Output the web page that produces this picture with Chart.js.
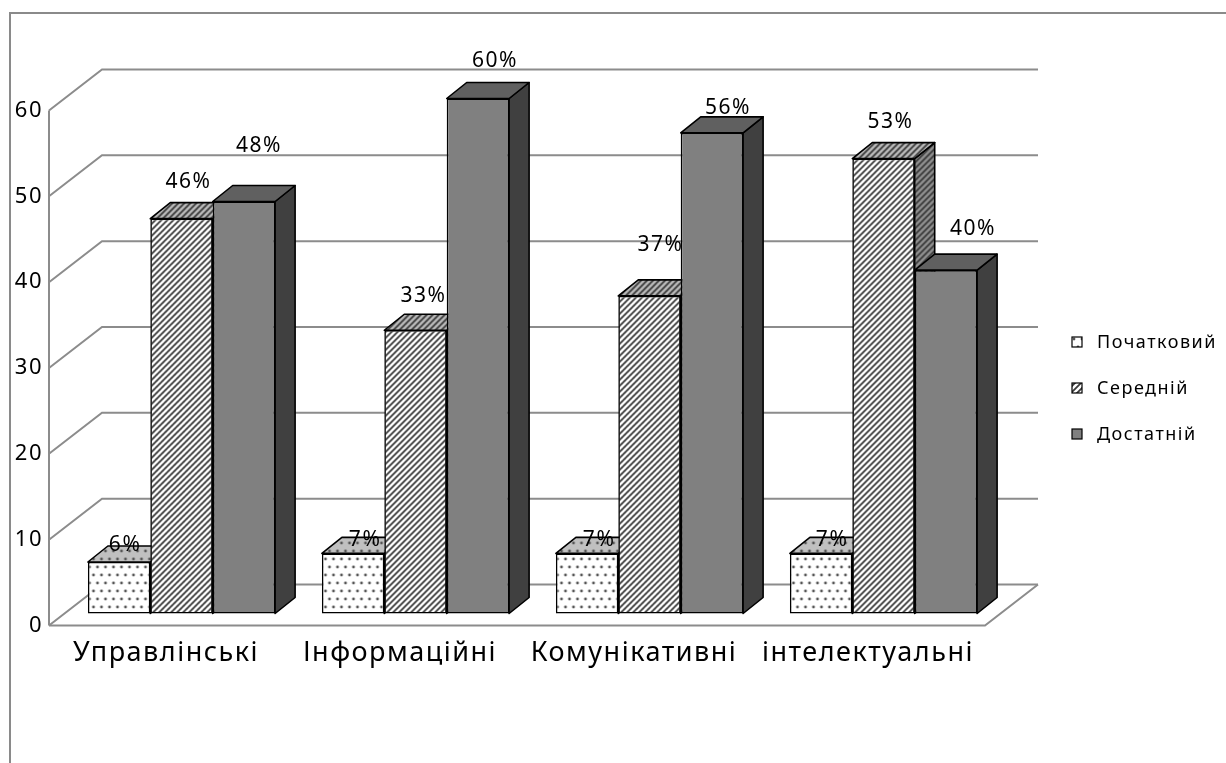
<!DOCTYPE html>
<html>
<head>
<meta charset="utf-8">
<script src="https://cdn.jsdelivr.net/npm/chart.js@4.4.1/dist/chart.umd.min.js"></script>
<style>
  html, body { margin: 0; padding: 0; background: #ffffff; }
  #wrap { width: 1226px; height: 763px; position: relative; }
</style>
</head>
<body>
<div id="wrap"><canvas id="c" width="1226" height="763"></canvas></div>
<script>
// ---- data ----
const categories = ['Управлінські', 'Інформаційні', 'Комунікативні', 'інтелектуальні'];
const seriesNames = ['Початковий', 'Середній', 'Достатній'];
const initialLevel = [6, 7, 7, 7];
const middleLevel = [46, 33, 37, 53];
const sufficientLevel = [48, 60, 56, 40];
const yTicks = [0, 10, 20, 30, 40, 50, 60];

// ---- 3D geometry (pixels) ----
const WALL_DX = 53, WALL_DY = -41;           // depth of side wall / floor
const BAR_SHIFT_X = 15.5, BAR_SHIFT_Y = -12; // bars sit part-way into the box
const BAR_DX = 20, BAR_DY = -16;             // depth of each bar

// value-label nudges relative to the front top centre of each bar
const labelNudge = [
  [[6, -17], [12, -13], [12, -13], [11, -13]],
  [[7, -37], [8, -34], [11, -51], [7, -37]],
  [[15, -55], [17, -37], [16, -25], [27, -41]]
];

const FONT = '"Noto Sans", "DejaVu Sans", sans-serif';
const SPACING = '1.5px';

// ---- fill patterns ----
const baseCtx = document.getElementById('c').getContext('2d');
function tile(w, h, paint) {
  const c = document.createElement('canvas');
  c.width = w; c.height = h;
  paint(c.getContext('2d'));
  return baseCtx.createPattern(c, 'repeat');
}
function dots(bg) {
  return tile(8, 16, g => {
    if (bg) { g.fillStyle = bg; g.fillRect(0, 0, 8, 16); }
    g.fillStyle = '#555555';
    [[2, 3], [6, 11]].forEach(([x, y]) => { g.beginPath(); g.arc(x, y, 1.4, 0, Math.PI * 2); g.fill(); });
  });
}
function hatch(bg, fg) {
  return tile(6, 6, g => {
    if (bg) { g.fillStyle = bg; g.fillRect(0, 0, 6, 6); }
    g.strokeStyle = fg; g.lineWidth = 1.8;
    g.beginPath();
    g.moveTo(-1, 7); g.lineTo(7, -1);
    g.moveTo(-1, 1); g.lineTo(1, -1);
    g.moveTo(5, 7); g.lineTo(7, 5);
    g.stroke();
  });
}

const faceStyles = [
  { front: dots('#ffffff'), top: '#c0c0c0', side: '#a6a6a6', overlay: dots(null) },
  { front: hatch('#ffffff', '#3c3c3c'), top: '#b8b8b8', side: '#8e8e8e', overlay: hatch(null, '#3c3c3c') },
  { front: '#808080', top: '#606060', side: '#404040', overlay: null }
];

function face(ctx, pts, fill, overlay) {
  ctx.beginPath();
  ctx.moveTo(pts[0][0], pts[0][1]);
  for (let i = 1; i < pts.length; i++) ctx.lineTo(pts[i][0], pts[i][1]);
  ctx.closePath();
  ctx.fillStyle = fill; ctx.fill();
  if (overlay) { ctx.fillStyle = overlay; ctx.fill(); }
  ctx.lineWidth = 1.6; ctx.strokeStyle = '#000000'; ctx.lineJoin = 'round';
  ctx.stroke();
}

const depthPlugin = {
  id: 'depth3d',
  beforeUpdate(chart) { chart.ctx.letterSpacing = SPACING; },
  beforeLayout(chart) { chart.ctx.letterSpacing = SPACING; },
  beforeDraw(chart) {
    const ctx = chart.ctx, a = chart.chartArea, ys = chart.scales.y;
    ctx.letterSpacing = SPACING;
    ctx.save();
    // outer border of the chart
    ctx.strokeStyle = '#8a8a8a'; ctx.lineWidth = 2;
    ctx.beginPath(); ctx.moveTo(10, 763); ctx.lineTo(10, 13); ctx.lineTo(1226, 13); ctx.stroke();
    // side wall and back wall gridlines
    ctx.strokeStyle = '#8c8c8c'; ctx.lineWidth = 2;
    yTicks.forEach(v => {
      const py = ys.getPixelForValue(v);
      ctx.beginPath();
      ctx.moveTo(a.left, py);
      ctx.lineTo(a.left + WALL_DX, py + WALL_DY);
      ctx.lineTo(a.right + WALL_DX, py + WALL_DY);
      ctx.stroke();
    });
    const p0 = ys.getPixelForValue(yTicks[0]);
    const pTop = ys.getPixelForValue(yTicks[yTicks.length - 1]);
    ctx.beginPath(); ctx.moveTo(a.left, pTop); ctx.lineTo(a.left, p0); ctx.stroke();
    // floor front edge
    ctx.beginPath();
    ctx.moveTo(a.left, p0); ctx.lineTo(a.right, p0); ctx.lineTo(a.right + WALL_DX, p0 + WALL_DY);
    ctx.stroke();
    ctx.restore();
  },
  beforeDatasetsDraw(chart) {
    const ctx = chart.ctx;
    ctx.save();
    ctx.translate(BAR_SHIFT_X, BAR_SHIFT_Y);
    // top and side faces of every bar, left to right; the front faces
    // drawn afterwards by the library hide whatever lies behind them
    ctx.save();
    chart.data.datasets.forEach((ds, i) => {
      const st = faceStyles[i];
      chart.getDatasetMeta(i).data.forEach(bar => {
        const { x, y, base, width } = bar.getProps(['x', 'y', 'base', 'width'], true);
        const L = x - width / 2, R = x + width / 2;
        face(ctx, [[R, y], [R + BAR_DX, y + BAR_DY], [R + BAR_DX, base + BAR_DY], [R, base]], st.side, st.overlay);
        face(ctx, [[L, y], [R, y], [R + BAR_DX, y + BAR_DY], [L + BAR_DX, y + BAR_DY]], st.top, st.overlay);
      });
    });
    ctx.restore();
  },
  afterDatasetsDraw(chart) {
    const ctx = chart.ctx;
    ctx.restore();
    // value labels
    ctx.save();
    ctx.letterSpacing = SPACING;
    ctx.font = '21px ' + FONT;
    ctx.fillStyle = '#000000';
    ctx.textAlign = 'center'; ctx.textBaseline = 'middle';
    chart.data.datasets.forEach((ds, i) => {
      chart.getDatasetMeta(i).data.forEach((bar, j) => {
        const n = labelNudge[i][j];
        ctx.fillText(ds.data[j] + '%', bar.x + BAR_SHIFT_X + n[0], bar.y + BAR_SHIFT_Y + n[1]);
      });
    });
    ctx.restore();
  },
  afterDraw(chart) {
    // legend
    const ctx = chart.ctx;
    const LX = 1072, LY = 342, GAP = 46, BOX = 10;
    ctx.save();
    ctx.letterSpacing = SPACING;
    ctx.font = '18px ' + FONT;
    ctx.textAlign = 'left'; ctx.textBaseline = 'middle';
    chart.data.datasets.forEach((ds, i) => {
      const cy = LY + i * GAP;
      ctx.fillStyle = ds.backgroundColor;
      ctx.fillRect(LX, cy - BOX / 2, BOX, BOX);
      ctx.lineWidth = 1.2; ctx.strokeStyle = '#000000';
      ctx.strokeRect(LX, cy - BOX / 2, BOX, BOX);
      ctx.fillStyle = '#000000';
      ctx.fillText(ds.label, LX + 25, cy + 1);
    });
    ctx.restore();
  }
};

Chart.defaults.font.family = FONT;
Chart.defaults.color = '#000000';

const seriesValues = [initialLevel, middleLevel, sufficientLevel];

new Chart(document.getElementById('c'), {
  type: 'bar',
  data: {
    labels: categories,
    datasets: seriesNames.map((name, i) => ({
      label: name,
      data: seriesValues[i],
      backgroundColor: faceStyles[i].front,
      borderColor: '#000000',
      borderWidth: 1.6,
      borderSkipped: false,
      categoryPercentage: 0.8,
      barPercentage: 1.0,
      clip: false
    }))
  },
  options: {
    responsive: false,
    animation: false,
    events: [],
    layout: { padding: { left: 0, top: 110.5, right: 241, bottom: 0 } },
    plugins: { legend: { display: false }, tooltip: { enabled: false } },
    scales: {
      x: {
        grid: { display: false, drawTicks: false },
        border: { display: false },
        ticks: { font: { size: 27 }, padding: 12, maxRotation: 0, autoSkip: false, color: '#000' },
        afterFit(scale) { scale.height = 137.5; }
      },
      y: {
        min: 0, max: 60,
        grid: { display: false, drawTicks: false },
        border: { display: false },
        ticks: { stepSize: 10, font: { size: 22 }, padding: 6, color: '#000' },
        afterFit(scale) { scale.width = 49; }
      }
    }
  },
  plugins: [depthPlugin]
});
</script>
</body>
</html>
